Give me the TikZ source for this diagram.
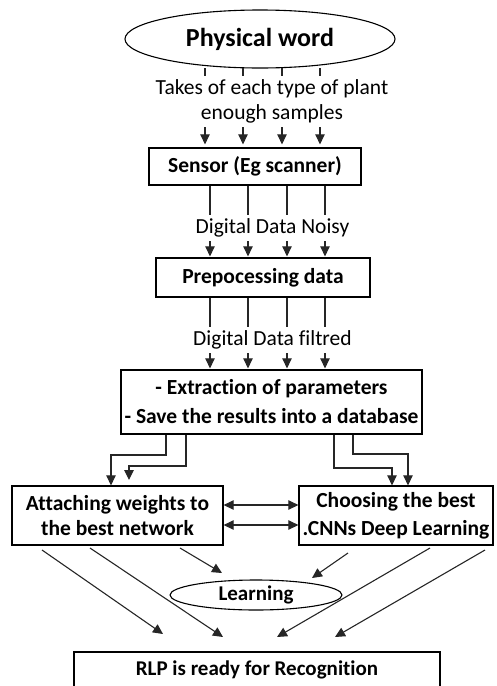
\documentclass[tikz,border=0pt]{standalone}
\usepackage{fontspec}
\setmainfont{Carlito}[Ligatures=NoCommon]
\usetikzlibrary{arrows.meta,shapes.geometric,calc}
\begin{document}
\begin{tikzpicture}[x=1pt,y=-1pt,
  box/.style={draw=black,line width=1.3pt,inner sep=0pt,align=center,font=\bfseries\fontsize{21.5}{29}\selectfont},
  oval/.style={draw=black,line width=1.1pt,ellipse,inner sep=0pt},
  lbl/.style={fill=white,inner xsep=1pt,inner ysep=3.5pt,align=center,font=\fontsize{21.5}{25}\selectfont},
  conn/.style={draw=black!85,line width=1.1pt},
  arr/.style={conn,-{Triangle[width=9.5pt,length=10pt]}},
  darr/.style={conn,{Triangle[width=9.5pt,length=10pt]}-{Triangle[width=9.5pt,length=10pt]}}
]
\useasboundingbox (0,0) rectangle (497,686);
% nodes
\node[oval,minimum width=270,minimum height=58,font=\bfseries\fontsize{26}{30}\selectfont] (phys) at (260,39) {Physical word};
\node[box,minimum width=212,minimum height=37] (sens) at (255,166.5) {Sensor (Eg scanner)};
\node[box,minimum width=214,minimum height=39] (prep) at (263,277.5) {Prepocessing data};
\node[box,minimum width=301,minimum height=64] (extr) at (271.5,402) {- Extraction of parameters\\- Save the results into a database};
\node[box,minimum width=211,minimum height=59,font=\bfseries\fontsize{21.5}{25}\selectfont] (att) at (117.5,515.5) {Attaching weights to\\the best network};
\node[box,minimum width=194,minimum height=59,font=\bfseries\fontsize{21.5}{28}\selectfont] (cho) at (396,515.5) {Choosing the best\\.CNNs Deep Learning};
\node[oval,minimum width=172,minimum height=30,font=\bfseries\fontsize{21}{24}\selectfont] (learn) at (256,595) {Learning};
\node[box,minimum width=366,minimum height=36,font=\bfseries\fontsize{21}{24}\selectfont] (rlp) at (257,670) {RLP is ready for Recognition};
% column coordinates
\foreach \n/\x in {1/205,2/243,3/282,4/320}{\coordinate (t\n) at (\x,68);}
\foreach \n/\x in {1/210,2/248,3/287,4/325}{\coordinate (c\n) at (\x,0);}
% physical -> sensor
\foreach \n in {1,2,3,4}{\draw[arr,shorten >=3pt] (t\n) -- (t\n |- sens.north);}
\node[lbl] (l1) at (272,101.5) {Takes of each type of plant\\enough samples};
% sensor -> prep
\foreach \n in {1,2,3,4}{\draw[arr,shorten >=1pt] (c\n |- sens.south) -- (c\n |- prep.north);}
\node[lbl] (l2) at (272.5,228) {Digital Data Noisy};
% prep -> extraction
\foreach \n in {1,2,3,4}{\draw[arr,shorten >=1pt] (c\n |- prep.south) -- (c\n |- extr.north);}
\node[lbl] (l3) at (272.5,340) {Digital Data filtred};
% extraction -> attaching
\coordinate (e1) at (166,0); \coordinate (e2) at (186,0);
\coordinate (e3) at (334,0); \coordinate (e4) at (353,0);
\coordinate (a1) at (111,0); \coordinate (a2) at (129,480);
\coordinate (b1) at (392,0); \coordinate (b2) at (408,0);
\draw[arr] (e1 |- extr.south) -- (166,455) -- (111,455) -- (a1 |- att.north);
\draw[arr] (e2 |- extr.south) -- (186,466) -- (129,466) -- (a2);
\draw[arr] (e3 |- extr.south) -- (334,468) -- (392,468) -- (b1 |- cho.north);
\draw[arr] (e4 |- extr.south) -- (353,454) -- (408,454) -- (b2 |- cho.north);
% double arrows
\coordinate (h1) at (0,505); \coordinate (h2) at (0,525);
\draw[darr] (att.east |- h1) -- (cho.west |- h1);
\draw[darr] (att.east |- h2) -- (cho.west |- h2);
% to learning
\coordinate (s1) at (180,548); \coordinate (s2) at (348,553);
\coordinate (g1) at (222,573); \coordinate (g2) at (312,578);
\draw[arr] (s1) -- (g1);
\draw[arr] (s2) -- (g2);
% to RLP
\coordinate (r1) at (42,550); \coordinate (r2) at (90,548);
\coordinate (r3) at (430,548); \coordinate (r4) at (485,550);
\coordinate (q1) at (163,634); \coordinate (q2) at (223,637);
\coordinate (q3) at (277,637); \coordinate (q4) at (335,637);
\draw[arr] (r1) -- (q1);
\draw[arr] (r2) -- (q2);
\draw[arr] (r3) -- (q3);
\draw[arr] (r4) -- (q4);
\end{tikzpicture}
\end{document}
